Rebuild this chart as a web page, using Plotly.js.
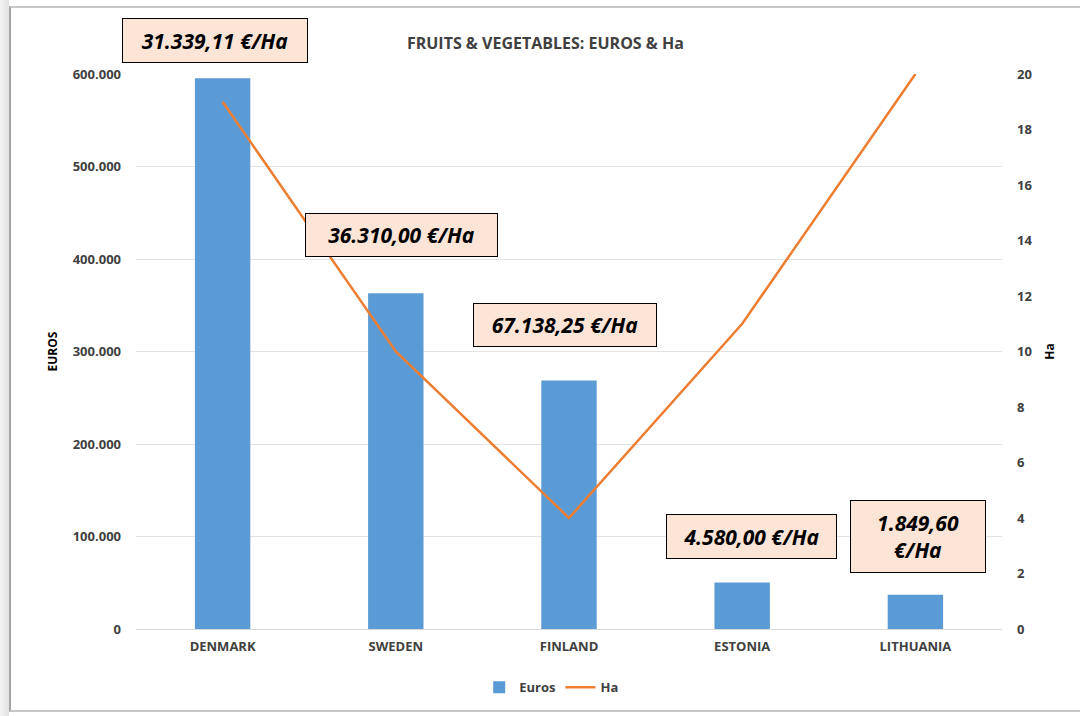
<!DOCTYPE html>
<html>
<head>
<meta charset="utf-8">
<script src="https://cdn.plot.ly/plotly-3.0.1.min.js"></script>
<style>
  html, body { margin: 0; padding: 0; width: 1080px; height: 716px; background: #ffffff; overflow: hidden; }
  #shadow { position: absolute; left: 0; top: 0; width: 9px; height: 716px; background: linear-gradient(to right, #f4f4f4, #e2e2e2); }
  #frame { position: absolute; left: 9px; top: 6px; width: 1080px; height: 706px; border-left: 2px solid #a6a6a6; border-top: 2px solid #c8c8c8; border-bottom: 2px solid #c8c8c8; box-sizing: border-box; }
  #chart { position: absolute; left: 0; top: 0; width: 1080px; height: 716px; }
</style>
</head>
<body>
<div id="shadow"></div>
<div id="frame"></div>
<div id="chart"></div>
<script>
// ---- data ----
const countries = ["DENMARK", "SWEDEN", "FINLAND", "ESTONIA", "LITHUANIA"];
const euros = [595443, 363100, 268553, 50380, 36992];
const hectares = [19, 10, 4, 11, 20];
const perHaLabels = ["31.339,11 €/Ha", "36.310,00 €/Ha", "67.138,25 €/Ha", "4.580,00 €/Ha", "1.849,60<br>€/Ha"];
const leftTickVals = [0, 100000, 200000, 300000, 400000, 500000, 600000];
const leftTickText = ["0", "100.000", "200.000", "300.000", "400.000", "500.000", "600.000"];
const rightTickVals = [0, 2, 4, 6, 8, 10, 12, 14, 16, 18, 20];

// ---- annotation box placement (paper coords) ----
const boxPos = [
  {x: 0.0912, y: 1.061, w: 178, h: 37},
  {x: 0.307, y: 0.710, w: 185, h: 36},
  {x: 0.495, y: 0.548, w: 176, h: 36},
  {x: 0.711, y: 0.166, w: 163, h: 37},
  {x: 0.903, y: 0.166, w: 128, h: 65}
];

const font = "'Open Sans', 'Noto Sans', sans-serif";
const txt = "#404040";
const bold = s => "<b>" + s + "</b>";

const traces = [
  {
    type: "bar", name: bold("Euros"), x: countries, y: euros,
    marker: {color: "#5b9bd5"}, width: 0.32, yaxis: "y"
  },
  {
    type: "scatter", mode: "lines", name: bold("Ha"), x: countries, y: hectares,
    line: {color: "#ed7d31", width: 2.5}, yaxis: "y2"
  }
];

const annotations = perHaLabels.map((t, i) => ({
  text: "<b><i>" + t + "</i></b>",
  xref: "paper", yref: "paper", x: boxPos[i].x, y: boxPos[i].y,
  xanchor: "center", yanchor: "middle", showarrow: false,
  font: {family: font, size: 21, color: "#000000"},
  bgcolor: "#fce4d6", bordercolor: "#000000", borderwidth: 1, borderpad: 3,
  width: boxPos[i].w, height: boxPos[i].h, align: "center", valign: "middle"
}));

const layout = {
  width: 1080, height: 716,
  margin: {l: 136, r: 78, t: 74, b: 87},
  paper_bgcolor: "rgba(0,0,0,0)", plot_bgcolor: "rgba(0,0,0,0)",
  font: {family: font, color: txt},
  title: {
    text: bold("FRUITS & VEGETABLES: EUROS & Ha"),
    font: {family: font, size: 16, color: txt},
    x: 0.505, xanchor: "center", y: 0.94, yanchor: "middle"
  },
  xaxis: {
    type: "category", range: [-0.5, 4.5], showgrid: false, showline: false, zeroline: false,
    tickvals: countries, ticktext: countries.map(bold),
    tickfont: {family: font, size: 13, color: txt}, ticks: "", ticklabelstandoff: 8
  },
  yaxis: {
    range: [0, 600000], tickvals: leftTickVals, ticktext: leftTickText.map(bold),
    showgrid: true, gridcolor: "#e3e3e3", gridwidth: 1, zeroline: true, zerolinecolor: "#d9d9d9",
    showline: false, ticks: "", tickfont: {family: font, size: 13, color: txt},
    ticklabelstandoff: 14,
    title: {text: bold("EUROS"), font: {family: font, size: 12, color: "#000000"}, standoff: 12}
  },
  yaxis2: {
    range: [0, 20], tickvals: rightTickVals, ticktext: rightTickVals.map(v => bold(String(v))),
    overlaying: "y", side: "right",
    showgrid: false, zeroline: false, showline: false, ticks: "",
    tickfont: {family: font, size: 13, color: txt}, ticklabelstandoff: 14,
    title: {text: bold("Ha"), font: {family: font, size: 12, color: "#000000"}, standoff: 14}
  },
  showlegend: true,
  legend: {
    orientation: "h", x: 0.48, xanchor: "center", y: -0.105, yanchor: "middle",
    font: {family: font, size: 13, color: txt}, bgcolor: "rgba(0,0,0,0)",
    itemwidth: 30
  },
  annotations: annotations
};

Plotly.newPlot("chart", traces, layout, {displayModeBar: false, staticPlot: true});
</script>
</body>
</html>
